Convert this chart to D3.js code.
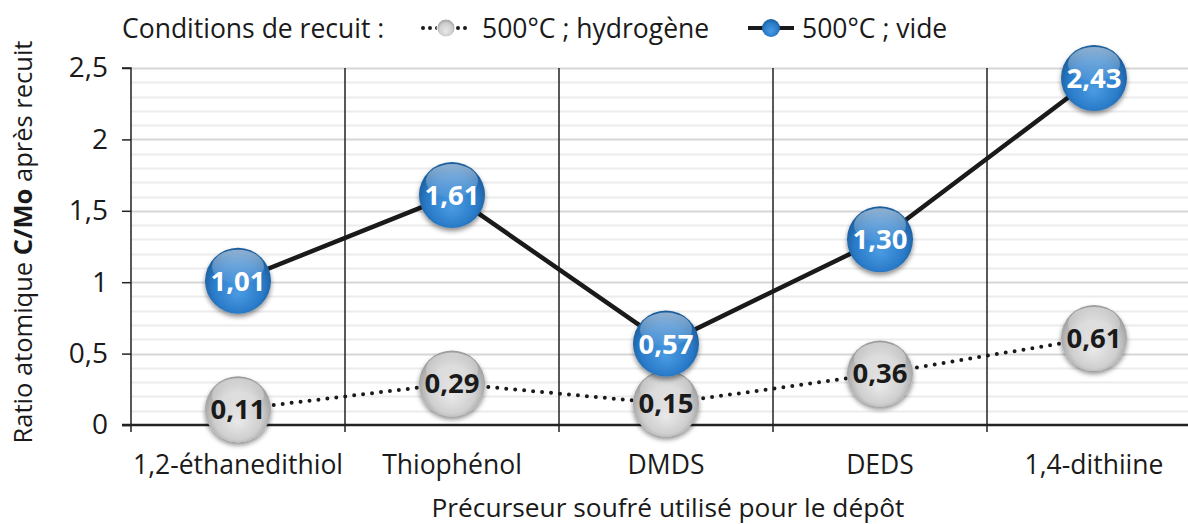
<!DOCTYPE html>
<html>
<head>
<meta charset="utf-8">
<script src="https://cdn.jsdelivr.net/npm/d3@7"></script>
<style>
  html, body { margin: 0; padding: 0; background: #fff; }
  svg { display: block; }
  text { font-family: "Open Sans", Lato, sans-serif; }
</style>
</head>
<body>
<svg id="chart" width="1188" height="524"></svg>
<script>
// Precursors and C/Mo atomic ratios after annealing
const categories = ["1,2-éthanedithiol", "Thiophénol", "DMDS", "DEDS", "1,4-dithiine"];
const hydrogene = [0.11, 0.29, 0.15, 0.36, 0.61];
const vide = [1.01, 1.61, 0.57, 1.30, 2.43];
const yTicks = [0, 0.5, 1, 1.5, 2, 2.5];
const seriesNames = ["500°C ; hydrogène", "500°C ; vide"];

const fmt = v => d3.format(".2f")(v).replace(".", ",");
const fmtTick = v => String(v).replace(".", ",");

const svg = d3.select("#chart");
const W = 1188, H = 524;
const m = { left: 131, top: 68, bottom: 425, right: 1201 };

const x = d3.scaleBand().domain(categories).range([m.left, m.right]).padding(0);
const y = d3.scaleLinear().domain([0, 2.5]).range([m.bottom, m.top]);

const defs = svg.append("defs");

// Glossy sphere gradients
function sphere(id, stops) {
  const g = defs.append("radialGradient").attr("id", id)
    .attr("cx", "50%").attr("cy", "55%").attr("r", "55%").attr("fx", "50%").attr("fy", "70%");
  stops.forEach(s => g.append("stop").attr("offset", s[0]).attr("stop-color", s[1]));
}
sphere("blueBall", [["0%", "#4a9be2"], ["70%", "#2a7bc9"], ["100%", "#1b5b99"]]);
sphere("grayBall", [["0%", "#e9e9e9"], ["65%", "#cfcfcf"], ["100%", "#9a9a9a"]]);
const gl = defs.append("linearGradient").attr("id", "gloss").attr("x1", 0).attr("y1", 0).attr("x2", 0).attr("y2", 1);
gl.append("stop").attr("offset", "0%").attr("stop-color", "#fff").attr("stop-opacity", 0.5);
gl.append("stop").attr("offset", "100%").attr("stop-color", "#fff").attr("stop-opacity", 0.04);
const sh = defs.append("filter").attr("id", "shadow").attr("x", "-30%").attr("y", "-30%").attr("width", "160%").attr("height", "170%");
sh.append("feGaussianBlur").attr("in", "SourceAlpha").attr("stdDeviation", 2.5);
sh.append("feOffset").attr("dx", 0).attr("dy", 3).attr("result", "b");
sh.append("feComponentTransfer").append("feFuncA").attr("type", "linear").attr("slope", 0.45);
const mg = sh.append("feMerge");
mg.append("feMergeNode");
mg.append("feMergeNode").attr("in", "SourceGraphic");

// Horizontal gridlines every 0.1
const gridVals = d3.range(0, 26).map(i => i / 10);
svg.append("g").selectAll("line").data(gridVals.filter(v => v > 0)).join("line")
  .attr("x1", m.left).attr("x2", W)
  .attr("y1", d => Math.round(y(d)) + 0.5).attr("y2", d => Math.round(y(d)) + 0.5)
  .attr("stroke", d => (Math.round(d * 10) % 5 === 0) ? "#d6d6d6" : "#ececec")
  .attr("stroke-width", 2);

// Vertical category separators
const bounds = categories.map(c => x(c)).slice(1);
svg.append("g").selectAll("line").data(bounds).join("line")
  .attr("x1", d => d).attr("x2", d => d)
  .attr("y1", m.top).attr("y2", m.bottom + 7)
  .attr("stroke", "#222").attr("stroke-width", 1.5);

// Y axis
const yAxis = svg.append("g").attr("transform", `translate(${m.left},0)`)
  .call(d3.axisLeft(y).tickValues(yTicks).tickFormat(fmtTick).tickSize(9).tickPadding(14));
yAxis.select(".domain").attr("stroke", "#222").attr("stroke-width", 1.5).attr("d", `M-9,${m.top}H0V${m.bottom}`);
yAxis.selectAll(".tick line").attr("stroke", "#222").attr("stroke-width", 1.5);
yAxis.selectAll(".tick text").attr("font-size", 28).attr("fill", "#1a1a1a")
  .style("font-family", "'Open Sans', sans-serif");

// X axis
const xAxis = svg.append("g").attr("transform", `translate(0,${m.bottom})`)
  .call(d3.axisBottom(x).tickSize(0).tickPadding(30));
xAxis.select(".domain").attr("stroke", "#222").attr("stroke-width", 2.5).attr("d", `M${m.left - 9},0H${W}`);
xAxis.selectAll(".tick text").attr("font-size", 26.5).attr("fill", "#1a1a1a");
svg.append("line").attr("x1", m.left).attr("x2", m.left).attr("y1", m.bottom).attr("y2", m.bottom + 7)
  .attr("stroke", "#222").attr("stroke-width", 1.5);

// Axis titles
svg.append("text").attr("x", 668).attr("y", 517).attr("text-anchor", "middle")
  .attr("font-size", 26.3).attr("fill", "#1a1a1a").text("Précurseur soufré utilisé pour le dépôt");
const yt = svg.append("text").attr("transform", `translate(32,242) rotate(-90)`).attr("text-anchor", "middle")
  .attr("font-size", 25.5).attr("fill", "#1a1a1a");
yt.append("tspan").text("Ratio atomique ");
yt.append("tspan").attr("font-weight", "bold").text("C/Mo");
yt.append("tspan").text(" après recuit");

// Series lines
const cx = c => x(c) + x.bandwidth() / 2;
const line = vals => d3.line().x((d, i) => cx(categories[i])).y(d => y(d))(vals);
svg.append("path").attr("d", line(hydrogene)).attr("fill", "none").attr("stroke", "#1a1a1a")
  .attr("stroke-width", 4).attr("stroke-linecap", "round").attr("stroke-dasharray", "0 9");
svg.append("path").attr("d", line(vide)).attr("fill", "none").attr("stroke", "#1a1a1a")
  .attr("stroke-width", 4.5);

// Glossy markers with value labels
function markers(vals, fill, textColor) {
  const g = svg.append("g").selectAll("g").data(vals).join("g")
    .attr("transform", (d, i) => `translate(${cx(categories[i])},${y(d)})`);
  g.append("circle").attr("r", 33).attr("fill", `url(#${fill})`).attr("filter", "url(#shadow)");
  g.append("ellipse").attr("cy", -14).attr("rx", 26).attr("ry", 17).attr("fill", "url(#gloss)");
  g.append("text").attr("text-anchor", "middle").attr("dy", "0.36em")
    .attr("font-size", 27.5).attr("font-weight", "bold").attr("fill", textColor)
    .text(d => fmt(d));
}
markers(hydrogene, "grayBall", "#1a1a1a");
markers(vide, "blueBall", "#ffffff");

// Legend
const lg = svg.append("g");
lg.append("text").attr("x", 122).attr("y", 38).attr("font-size", 26.5).attr("fill", "#1a1a1a").text("Conditions de recuit :");
lg.append("line").attr("x1", 423).attr("x2", 466).attr("y1", 28).attr("y2", 28)
  .attr("stroke", "#1a1a1a").attr("stroke-width", 4).attr("stroke-linecap", "round").attr("stroke-dasharray", "0 7");
lg.append("circle").attr("cx", 446).attr("cy", 28).attr("r", 9).attr("fill", "url(#grayBall)").attr("stroke", "#fff").attr("stroke-width", 1);
lg.append("text").attr("x", 482).attr("y", 38).attr("font-size", 26.5).attr("fill", "#1a1a1a").text(seriesNames[0]);
lg.append("line").attr("x1", 748).attr("x2", 794).attr("y1", 28).attr("y2", 28)
  .attr("stroke", "#1a1a1a").attr("stroke-width", 4);
lg.append("circle").attr("cx", 771).attr("cy", 28).attr("r", 9).attr("fill", "url(#blueBall)");
lg.append("text").attr("x", 802).attr("y", 38).attr("font-size", 26.5).attr("fill", "#1a1a1a").text(seriesNames[1]);
</script>
</body>
</html>
